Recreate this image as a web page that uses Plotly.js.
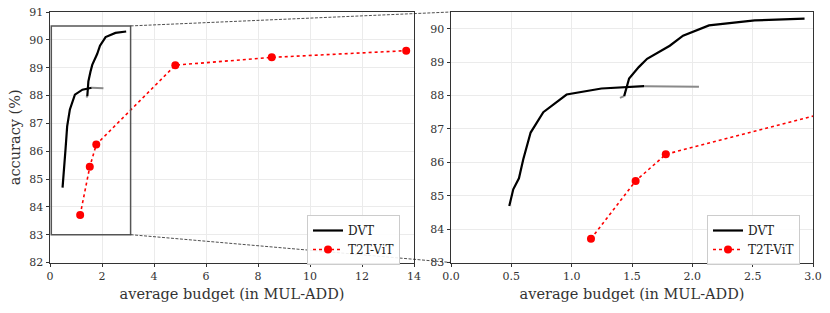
<!DOCTYPE html>
<html><head><meta charset="utf-8">
<script src="https://cdn.plot.ly/plotly-3.0.1.min.js"></script>
<style>html,body{margin:0;padding:0;background:#fff}#plot{width:830px;height:313px}</style>
</head><body><div id="plot"></div>
<script>
// DVT, first stage curve
const dvtX1 = [0.483, 0.497, 0.516, 0.563, 0.599, 0.660, 0.765, 0.958, 1.247, 1.600];
const dvtY1 = [84.69, 84.90, 85.19, 85.52, 86.09, 86.89, 87.50, 88.03, 88.21, 88.28];
// DVT, second stage curve
const dvtX2 = [1.435, 1.476, 1.556, 1.625, 1.813, 1.923, 2.138, 2.517, 2.930];
const dvtY2 = [87.98, 88.51, 88.85, 89.10, 89.49, 89.79, 90.10, 90.25, 90.30];
// gray transition segments
const grayAX = [1.600, 2.055];
const grayAY = [88.28, 88.26];
const grayBX = [1.400, 1.435];
const grayBY = [87.93, 87.98];
// T2T-ViT
const t2tX = [1.16, 1.53, 1.78, 4.82, 8.53, 13.70];
const t2tY = [83.71, 85.44, 86.24, 89.09, 89.37, 89.61];

const W = 830, H = 313;
const FONT = 'DejaVu Serif';
const dom1 = [50/W, 414/W], dom2 = [451/W, 813/W], domY = [1-262.5/H, 1-12/H];
const r1x = [0, 14], r1y = [82, 91], r2x = [0, 3], r2y = [83, 90.5];
const zoomBox = {x0: 0.05, x1: 3.1, y0: 83, y1: 90.5};

function mk(xa, ya, legend) {
  return [
    {x: grayAX, y: grayAY, xaxis: xa, yaxis: ya, mode: 'lines', line: {color: '#8a8a8a', width: 2}, showlegend: false, hoverinfo: 'skip'},
    {x: grayBX, y: grayBY, xaxis: xa, yaxis: ya, mode: 'lines', line: {color: '#8a8a8a', width: 2}, showlegend: false, hoverinfo: 'skip'},
    {x: dvtX1, y: dvtY1, xaxis: xa, yaxis: ya, mode: 'lines', name: 'DVT', line: {color: '#000', width: 2.2}, legend: legend, showlegend: true, legendrank: 1},
    {x: dvtX2, y: dvtY2, xaxis: xa, yaxis: ya, mode: 'lines', name: 'DVT', line: {color: '#000', width: 2.2}, legend: legend, showlegend: false},
    {x: t2tX, y: t2tY, xaxis: xa, yaxis: ya, mode: 'lines+markers', name: 'T2T-ViT', line: {color: '#ff0000', width: 1.6, dash: 'dot'}, marker: {color: '#ff0000', size: 8}, legend: legend, showlegend: true, legendrank: 2}
  ];
}
const data = [...mk('x', 'y', 'legend'), ...mk('x2', 'y2', 'legend2')];

const axBase = {showline: true, mirror: true, linecolor: '#333', linewidth: 1, ticks: 'outside', ticklen: 3.5, tickcolor: '#333',
  showgrid: true, gridcolor: '#ebebeb', gridwidth: 1, zeroline: false, tickfont: {family: FONT, size: 11, color: '#333'}, automargin: false};

// map data coordinates of subplot 1 to paper
function p1x(v) { return dom1[0] + (v - r1x[0]) / (r1x[1] - r1x[0]) * (dom1[1] - dom1[0]); }
function p1y(v) { return domY[0] + (v - r1y[0]) / (r1y[1] - r1y[0]) * (domY[1] - domY[0]); }

const legBase = {xanchor: 'left', yanchor: 'top', bgcolor: 'rgba(255,255,255,0.9)', bordercolor: '#cccccc', borderwidth: 1,
  font: {family: FONT, size: 12, color: '#222'}, tracegroupgap: 0, itemwidth: 30};

const titleFont = {family: FONT, size: 14.5, color: '#333'};
const layout = {
  width: W, height: H, margin: {l: 0, r: 0, t: 0, b: 0}, paper_bgcolor: '#fff', plot_bgcolor: '#fff',
  showlegend: true,
  xaxis: Object.assign({}, axBase, {domain: dom1, range: r1x, dtick: 2, anchor: 'y',
    title: {text: 'average budget (in MUL-ADD)', font: titleFont, standoff: 6}}),
  yaxis: Object.assign({}, axBase, {domain: domY, range: r1y, dtick: 1, anchor: 'x',
    title: {text: 'accuracy (%)', font: titleFont, standoff: 5}}),
  xaxis2: Object.assign({}, axBase, {domain: dom2, range: r2x, dtick: 0.5, tickformat: '.1f', anchor: 'y2',
    title: {text: 'average budget (in MUL-ADD)', font: titleFont, standoff: 6}}),
  yaxis2: Object.assign({}, axBase, {domain: domY, range: r2y, dtick: 1, tick0: 83, anchor: 'x2'}),
  legend: Object.assign({}, legBase, {x: 307/W, y: 1 - 215/H}),
  legend2: Object.assign({}, legBase, {x: 707/W, y: 1 - 215/H}),
  shapes: [
    {type: 'rect', xref: 'x', yref: 'y', x0: zoomBox.x0, x1: zoomBox.x1, y0: zoomBox.y0, y1: zoomBox.y1,
      line: {color: '#555', width: 1.5}, fillcolor: 'rgba(0,0,0,0)', layer: 'above'},
    {type: 'line', xref: 'paper', yref: 'paper', x0: p1x(zoomBox.x1), y0: p1y(zoomBox.y1), x1: dom2[0], y1: domY[1],
      line: {color: '#222', width: 0.8, dash: '3px,1.5px'}},
    {type: 'line', xref: 'paper', yref: 'paper', x0: p1x(zoomBox.x1), y0: p1y(zoomBox.y0), x1: dom2[0], y1: domY[0],
      line: {color: '#222', width: 0.8, dash: '3px,1.5px'}}
  ]
};
Plotly.newPlot('plot', data, layout, {displayModeBar: false, staticPlot: true});
</script></body></html>
